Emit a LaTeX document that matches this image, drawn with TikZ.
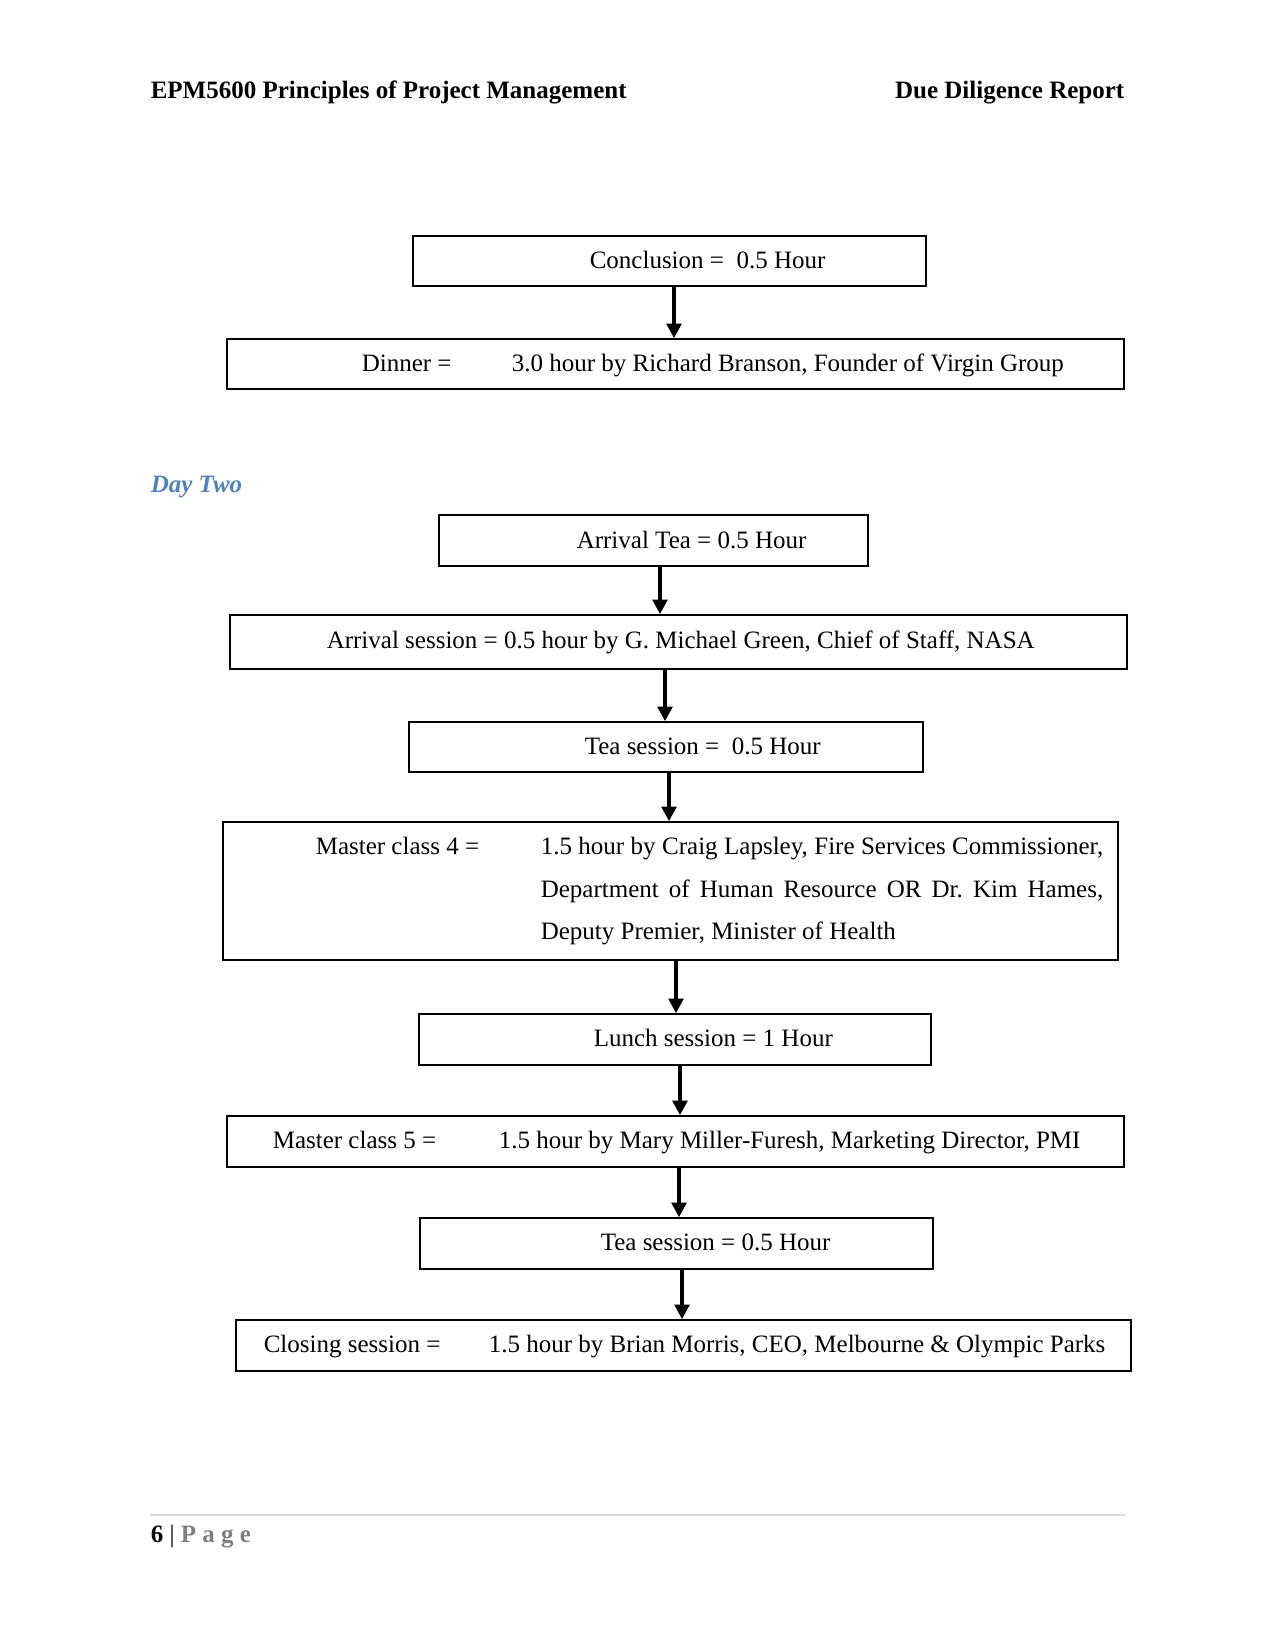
\documentclass[tikz,border=0pt]{standalone}
\usepackage{fontspec}
\setmainfont{Liberation Serif}
\usetikzlibrary{arrows.meta,fit}

\definecolor{headblue}{RGB}{79,129,189}
\definecolor{pagegrey}{RGB}{127,127,127}
\definecolor{rulegrey}{RGB}{217,217,217}

\tikzset{every picture/.style={line width=0.75pt}}
\tikzset{
  box/.style={draw, inner sep=0pt, line width=0.75pt},
  txt/.style={anchor=base west, inner sep=0pt, yshift=-0.8pt},
  flow/.style={line width=1.9pt, -{Triangle[length=7pt,width=7pt]}},
}

\begin{document}
\frenchspacing
\begin{tikzpicture}[x=0.48pt,y=0.48pt,yscale=-1,xscale=1,font=\fontsize{12pt}{14pt}\selectfont]
\useasboundingbox (0,0) rectangle (1275,1650);

% Header
\node[txt, font=\fontsize{12pt}{14pt}\selectfont\bfseries] (hl) at (150,97) {EPM5600 Principles of Project Management};
\node[anchor=base east, inner sep=0pt, yshift=-0.8pt, font=\fontsize{12pt}{14pt}\selectfont\bfseries] (hr) at (1125,97) {Due Diligence Report};

%Shape: boxes
\node[box, fit={(413,236) (926,286)}] (conc) {};
\node[box, fit={(227,339) (1124,389)}] (din) {};
\node[box, fit={(439,515) (868,566)}] (atea) {};
\node[box, fit={(230,615) (1127,669)}] (asess) {};
\node[box, fit={(409,722) (923,772)}] (tea1) {};
\node[box, fit={(223,822) (1118,960)}] (mc4) {};
\node[box, fit={(419,1014) (931,1065)}] (lunch) {};
\node[box, fit={(227,1116) (1124,1167)}] (mc5) {};
\node[box, fit={(420,1218) (933,1269)}] (tea2) {};
\node[box, fit={(236,1320) (1131,1371)}] (close) {};

% Text Node
\node[txt] (tconc) at (589,267) {Conclusion =\ \ 0.5 Hour};
\node[txt] (tdin) at (361,370) {Dinner =};
\node[txt] (tdin2) at (511,370) {3.0 hour by Richard Branson, Founder of Virgin Group};
\node[txt, font=\fontsize{12pt}{14pt}\selectfont\bfseries\itshape, text=headblue] (day) at (150,491) {Day Two};
\node[txt] (tatea) at (576,547) {Arrival Tea = 0.5 Hour};
\node[txt] (tasess) at (326,647) {Arrival session = 0.5 hour by G. Michael Green, Chief of Staff, NASA};
\node[txt] (ttea1) at (584,753) {Tea session =\ \ 0.5 Hour};
\node[txt] (tmc4) at (315,853) {Master class 4 =};
\node[txt] (tmc4a) at (540,853) {\makebox[270pt][s]{1.5 hour by Craig Lapsley, Fire Services Commissioner,}};
\node[txt] (tmc4b) at (540,896) {\makebox[270pt][s]{Department of Human Resource OR Dr. Kim Hames,}};
\node[txt] (tmc4c) at (540,938) {Deputy Premier, Minister of Health};
\node[txt] (tlunch) at (593,1045) {Lunch session = 1 Hour};
\node[txt] (tmc5) at (272,1147) {Master class 5 =};
\node[txt] (tmc5a) at (498,1147) {1.5 hour by Mary Miller-Furesh, Marketing Director, PMI};
\node[txt] (ttea2) at (600,1249) {Tea session = 0.5 Hour};
\node[txt] (tclose) at (263,1351) {Closing session =};
\node[txt] (tclose2) at (488,1351) {1.5 hour by Brian Morris, CEO, Melbourne \& Olympic Parks};

% Arrows
\coordinate (x1) at (674,0);
\coordinate (x2) at (660,0);
\coordinate (x3) at (665,0);
\coordinate (x4) at (669,0);
\coordinate (x5) at (676,0);
\coordinate (x6) at (680,0);
\coordinate (x7) at (679,0);
\coordinate (x8) at (682,0);
\draw[flow] (conc.south -| x1) -- (din.north -| x1);
\draw[flow] (atea.south -| x2) -- (asess.north -| x2);
\draw[flow] (asess.south -| x3) -- (tea1.north -| x3);
\draw[flow] (tea1.south -| x4) -- (mc4.north -| x4);
\draw[flow] (mc4.south -| x5) -- (lunch.north -| x5);
\draw[flow] (lunch.south -| x6) -- (mc5.north -| x6);
\draw[flow] (mc5.south -| x7) -- (tea2.north -| x7);
\draw[flow] (tea2.south -| x8) -- (close.north -| x8);

% Footer
\coordinate (rl) at (150,1515);
\coordinate (rr) at (1125,1515);
\draw[rulegrey, line width=0.6pt] (rl) -- (rr);
\node[txt, font=\fontsize{12pt}{14pt}\selectfont\bfseries] (foot) at (150,1541) {6 {\mdseries|} \textcolor{pagegrey}{P\hspace{3pt}a\hspace{3pt}g\hspace{3pt}e}};

\end{tikzpicture}
\end{document}
